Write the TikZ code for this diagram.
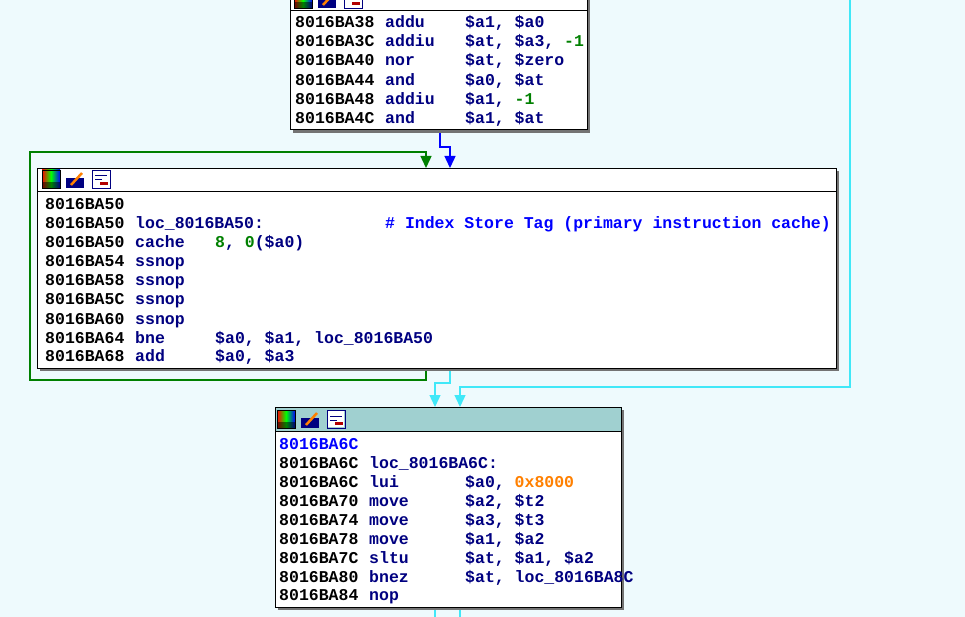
\documentclass[tikz,border=0pt]{standalone}
\usepackage{fontspec}
\setmonofont{Liberation Mono}
\usetikzlibrary{arrows.meta}
\definecolor{bgc}{HTML}{EEFAFD}
\definecolor{navy}{HTML}{000080}
\definecolor{idagreen}{HTML}{008000}
\definecolor{idaorange}{HTML}{FF8000}
\definecolor{hdrteal}{HTML}{A0D0D0}
\definecolor{edgecyan}{HTML}{40E8F8}
\tikzset{
 asm/.style={anchor=base west, inner sep=0pt, font=\ttfamily\bfseries\fontsize{16.5}{18}\selectfont},
 blockbox/.style={draw=black, fill=white, line width=1pt},
 shadowbox/.style={fill=black!55},
 edge/.style={line width=1.4pt, -{Triangle[length=12pt,width=11pt]}},
}
% one listing line: y, x of block text, x of operands, address, mnemonic, operands
\newcommand\asmline[6]{%
 \node[asm] at (#2,#1+6) {#4};
 \node[asm, text=navy] at (#2+90,#1+6) {#5};
 \node[asm, text=navy] at (#3,#1+6) {#6};}
% the three header icons
\newcommand\hdricons[2]{%
 \shade[left color=red, right color=blue, middle color=green] (#1,#2) rectangle (#1+18,#2+18);
 \fill[black, opacity=0.5] (#1,#2+12) rectangle (#1+18,#2+18);
 \draw[black] (#1,#2) rectangle (#1+18,#2+18);
 \fill[navy] (#1+24,#2+8) rectangle (#1+42,#2+18);
 \draw[orange, line width=2.5pt] (#1+29,#2+15) -- (#1+40,#2+3);
 \draw[navy] (#1+50,#2) rectangle (#1+68,#2+18);
 \fill[white] (#1+51,#2+1) rectangle (#1+67,#2+17);
 \draw[navy, line width=1pt] (#1+53,#2+6) -- (#1+65,#2+6) (#1+53,#2+10) -- (#1+60,#2+10);
 \fill[red!70!black] (#1+58,#2+12) rectangle (#1+66,#2+15);}
\begin{document}
\begin{tikzpicture}[x=1pt, y=-1pt]
 \useasboundingbox (0,0) rectangle (965,617);
 \fill[bgc] (0,0) rectangle (965,617);
 % connectors
 \coordinate (topout) at (440,130);
 \coordinate (midin) at (450,168);
 \coordinate (loopin) at (426,168);
 \coordinate (midout) at (426,368);
 \coordinate (midfall) at (450,368);
 \coordinate (botin) at (435,407);
 \coordinate (farin) at (460,407);
 \coordinate (farout) at (850,0);
 \draw[edge, blue] (topout) |- (445,147) -| (midin);
 \draw[edge, idagreen] (midout) |- (30,380) |- (426,152) -- (loopin);
 \draw[edge, edgecyan] (midfall) |- (435,383) -- (botin);
 \draw[edge, edgecyan] (farout) |- (460,387) -- (farin);
 \draw[edgecyan, line width=1.2pt] (435,607) -- (435,617) (460,607) -- (460,617);
 % top block
 \fill[shadowbox] (293,-5) rectangle (590,133);
 \draw[blockbox] (290,-8) rectangle (587,130);
 \draw[black] (290,10) -- (587,10);
 \hdricons{294}{-10}
 \asmline{22}{295}{465}{8016BA38}{addu}{\$a1, \$a0}
 \asmline{41}{295}{465}{8016BA3C}{addiu}{\$at, \$a3, \textcolor{idagreen}{-1}}
 \asmline{60}{295}{465}{8016BA40}{nor}{\$at, \$zero}
 \asmline{80}{295}{465}{8016BA44}{and}{\$a0, \$at}
 \asmline{99}{295}{465}{8016BA48}{addiu}{\$a1, \textcolor{idagreen}{-1}}
 \asmline{118}{295}{465}{8016BA4C}{and}{\$a1, \$at}
 % loop block
 \fill[shadowbox] (40,171) rectangle (839,371);
 \node[blockbox, inner sep=0pt, minimum width=799pt, minimum height=200pt, anchor=north west] (loopblk) at (37,168) {};
 \draw[black] (37,191) -- (836,191);
 \hdricons{42}{170}
 \asmline{204}{45}{215}{8016BA50}{}{}
 \asmline{223}{45}{215}{8016BA50}{loc\_8016BA50:}{}
 \node[asm, text=blue] at (385,229) {\# Index Store Tag (primary instruction cache)};
 \asmline{242}{45}{215}{8016BA50}{cache}{\textcolor{idagreen}{8}, \textcolor{idagreen}{0}(\$a0)}
 \asmline{261}{45}{215}{8016BA54}{ssnop}{}
 \asmline{280}{45}{215}{8016BA58}{ssnop}{}
 \asmline{299}{45}{215}{8016BA5C}{ssnop}{}
 \asmline{318}{45}{215}{8016BA60}{ssnop}{}
 \asmline{337}{45}{215}{8016BA64}{bne}{\$a0, \$a1, loc\_8016BA50}
 \asmline{355}{45}{215}{8016BA68}{add}{\$a0, \$a3}
 % bottom block
 \fill[shadowbox] (278,410) rectangle (624,610);
 \draw[blockbox] (275,407) rectangle (621,607);
 \fill[hdrteal] (275.5,407.5) rectangle (620.5,431);
 \draw[black] (275,431) -- (621,431);
 \hdricons{277}{410}
 \asmline{443}{279}{465}{\textcolor{blue}{8016BA6C}}{}{}
 \asmline{462}{279}{465}{8016BA6C}{loc\_8016BA6C:}{}
 \asmline{481}{279}{465}{8016BA6C}{lui}{\$a0, \textcolor{idaorange}{0x8000}}
 \asmline{500}{279}{465}{8016BA70}{move}{\$a2, \$t2}
 \asmline{519}{279}{465}{8016BA74}{move}{\$a3, \$t3}
 \asmline{538}{279}{465}{8016BA78}{move}{\$a1, \$a2}
 \asmline{557}{279}{465}{8016BA7C}{sltu}{\$at, \$a1, \$a2}
 \asmline{576}{279}{465}{8016BA80}{bnez}{\$at, loc\_8016BA8C}
 \asmline{594}{279}{465}{8016BA84}{nop}{}
\end{tikzpicture}
\end{document}
